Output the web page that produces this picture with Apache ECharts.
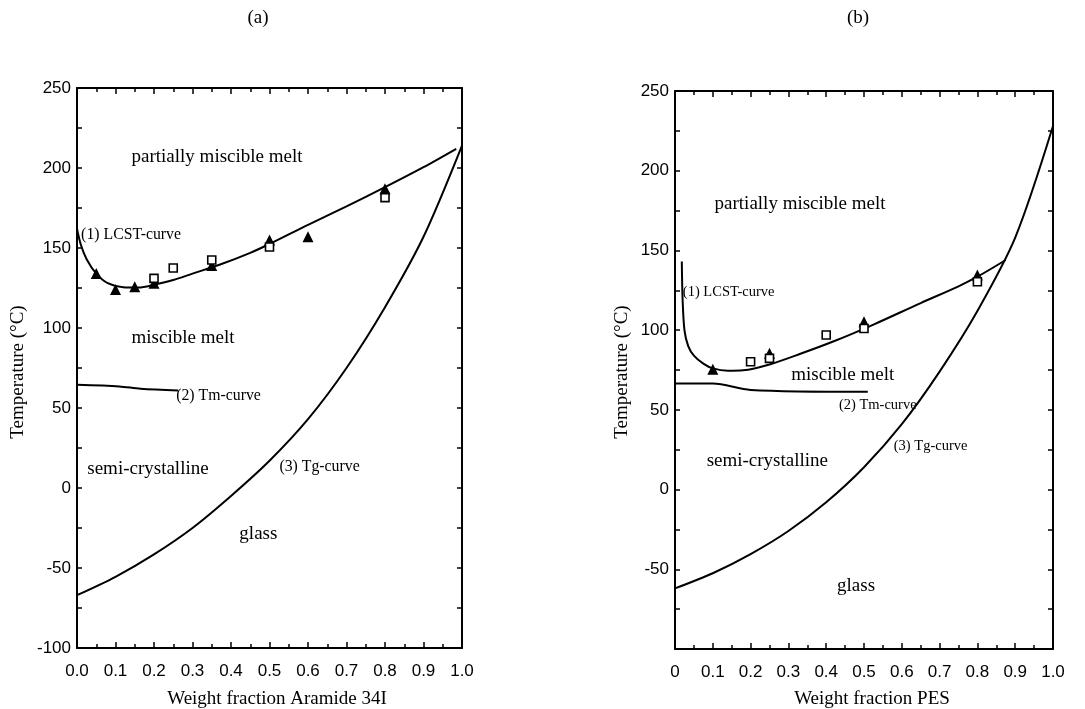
<!DOCTYPE html>
<html>
<head>
<meta charset="utf-8">
<script src="https://cdn.jsdelivr.net/npm/echarts@6/dist/echarts.min.js"></script>
<style>
html,body{margin:0;padding:0;background:#fff;}
#chart{width:1085px;height:709px;}
</style>
</head>
<body>
<div id="chart"></div>
<script>
// ---------- tick labels ----------
const xLabelsA = ['0.0','0.1','0.2','0.3','0.4','0.5','0.6','0.7','0.8','0.9','1.0'];
const xLabelsB = ['0','0.1','0.2','0.3','0.4','0.5','0.6','0.7','0.8','0.9','1.0'];
const yLabelsA = ['-100','-50','0','50','100','150','200','250'];
const yLabelsB = ['','-50','0','50','100','150','200','250'];

// ---------- panel (a): PEO / Aramide 34I ----------
const lcstA = [[0,162],[0.01,152],[0.025,143],[0.05,134],[0.08,128],[0.12,125.5],[0.16,125.3],[0.2,127],[0.25,130],[0.3,134],[0.37,139.5],[0.45,147],[0.5,152.5],[0.6,164.5],[0.7,176],[0.8,188],[0.9,200.5],[0.985,212]];
const tmA = [[0,64.5],[0.11,63.5],[0.165,62],[0.263,61]];
const tgA = [[0,-67],[0.1,-55.5],[0.2,-41.5],[0.3,-25],[0.4,-5],[0.5,17],[0.6,43],[0.7,75],[0.8,113],[0.9,157],[1.0,214]];
const triA = [[0.05,134],[0.1,124],[0.15,125.8],[0.2,128],[0.35,139],[0.5,155],[0.6,157],[0.8,187]];
const sqA = [[0.2,131],[0.25,137.5],[0.35,142.5],[0.5,150.6],[0.8,181.5]];

// ---------- panel (b): PEO / PES ----------
const lcstB = [[0.018,143],[0.02,120],[0.025,100],[0.035,90],[0.05,84],[0.075,79],[0.1,76],[0.14,74.5],[0.18,74.8],[0.25,78.5],[0.33,85],[0.42,93],[0.525,103.5],[0.65,117],[0.75,127.5],[0.8,133.5],[0.875,144]];
const tmB = [[0,66.5],[0.1,66.5],[0.2,62.5],[0.51,61.3]];
const tgB = [[0,-62],[0.1,-52.5],[0.2,-40.5],[0.3,-26],[0.4,-8],[0.5,14],[0.6,41],[0.7,74],[0.8,112],[0.9,158],[1.0,228]];
const triB = [[0.1,75.4],[0.25,85.5],[0.5,105.3],[0.8,134.6]];
const sqB = [[0.2,80.2],[0.25,82.3],[0.4,97],[0.5,101],[0.8,130.4]];

// ---------- region / curve annotations (data coordinates) ----------
const notesA = [
  [0.143,206.5,'partially miscible melt','big'],
  [0.012,158,'(1) LCST-curve','small'],
  [0.143,93.5,'miscible melt','big'],
  [0.259,57,'(2) Tm-curve','small'],
  [0.028,11.3,'semi-crystalline','big'],
  [0.527,13,'(3) Tg-curve','small'],
  [0.423,-28.8,'glass','big']
];
const notesB = [
  [0.106,179,'partially miscible melt','big'],
  [0.022,123.5,'(1) LCST-curve','small'],
  [0.309,71.8,'miscible melt','big'],
  [0.435,52.4,'(2) Tm-curve','small'],
  [0.085,17.5,'semi-crystalline','big'],
  [0.58,26.8,'(3) Tg-curve','small'],
  [0.43,-61,'glass','big']
];

const SANS = 'Liberation Sans, Arial, sans-serif';
const SERIF = 'Liberation Serif, Times New Roman, serif';

function xAxisPair(grid, labels) {
  const base = {
    type:'value', gridIndex:grid, min:0, max:1, interval:0.1,
    axisLine:{show:true, onZero:false, lineStyle:{color:'#000', width:2}},
    axisTick:{show:true, inside:true, length:6, lineStyle:{color:'#000', width:1.5}},
    minorTick:{show:true, splitNumber:2, length:4, lineStyle:{color:'#000', width:1.5}},
    splitLine:{show:false}, minorSplitLine:{show:false}
  };
  return [
    Object.assign({}, base, {position:'bottom',
      axisLabel:{show:true, color:'#000', fontFamily:SANS, fontSize:17, margin:15,
        formatter:(v)=>labels[Math.round(v*10)]}}),
    Object.assign({}, base, {position:'top', axisLabel:{show:false}})
  ];
}
function yAxisPair(grid, labels) {
  const base = {
    type:'value', gridIndex:grid, min:-100, max:250, interval:50,
    axisLine:{show:true, onZero:false, lineStyle:{color:'#000', width:2}},
    axisTick:{show:true, inside:true, length:5, lineStyle:{color:'#000', width:1.5}},
    minorTick:{show:true, splitNumber:2, length:5, lineStyle:{color:'#000', width:1.5}},
    splitLine:{show:false}, minorSplitLine:{show:false}
  };
  return [
    Object.assign({}, base, {position:'left',
      axisLabel:{show:true, color:'#000', fontFamily:SANS, fontSize:17, margin:6,
        formatter:(v)=>labels[Math.round((v+100)/50)]}}),
    Object.assign({}, base, {position:'right', axisLabel:{show:false}})
  ];
}

function curve(data, xi, yi) {
  return {type:'line', data:data, xAxisIndex:xi, yAxisIndex:yi, showSymbol:false, symbol:'none',
    smooth:0.3, lineStyle:{color:'#000', width:2, opacity:1}, z:3, silent:true};
}
function tri(data, xi, yi) {
  return {type:'scatter', data:data, xAxisIndex:xi, yAxisIndex:yi, symbol:'triangle', symbolSize:11,
    itemStyle:{color:'#000', opacity:1}, z:5, silent:true};
}
function sq(data, xi, yi) {
  return {type:'scatter', data:data, xAxisIndex:xi, yAxisIndex:yi, symbol:'rect', symbolSize:8,
    itemStyle:{color:'#fff', borderColor:'#000', borderWidth:1.6, opacity:1}, z:6, silent:true};
}
function notes(list, xi, yi, smallSize) {
  return {type:'scatter', xAxisIndex:xi, yAxisIndex:yi, symbolSize:1, silent:true, z:7,
    itemStyle:{color:'rgba(0,0,0,0)', opacity:1},
    data:list.map(n=>({value:[n[0],n[1]], name:n[2],
      label:{show:true, position:[0,0], align:'left', verticalAlign:'middle',
        formatter:n[2], color:'#000', opacity:1, fontFamily:SERIF,
        fontSize: n[3]==='big' ? 19 : smallSize}}))};
}

const xa = xAxisPair(0, xLabelsA), xb = xAxisPair(1, xLabelsB);
const ya = yAxisPair(0, yLabelsA), yb = yAxisPair(1, yLabelsB);

const chart = echarts.init(document.getElementById('chart'), null, {renderer:'canvas'});
chart.setOption({
  backgroundColor:'#fff',
  animation:false,
  grid:[
    {left:77, top:88, width:385, height:560, outerBoundsMode:'none', containLabel:false},
    {left:675, top:91, width:378, height:558, outerBoundsMode:'none', containLabel:false}
  ],
  xAxis:[xa[0], xa[1], xb[0], xb[1]],
  yAxis:[ya[0], ya[1], yb[0], yb[1]],
  series:[
    curve(tgA,0,0), curve(tmA,0,0), curve(lcstA,0,0), tri(triA,0,0), sq(sqA,0,0), notes(notesA,0,0,15.8),
    curve(tgB,2,2), curve(tmB,2,2), curve(lcstB,2,2), tri(triB,2,2), sq(sqB,2,2), notes(notesB,2,2,14.5)
  ],
  graphic:[
    {type:'text', x:258, y:18, style:{text:'(a)', font:'19px '+SERIF, fill:'#000', align:'center', verticalAlign:'middle'}},
    {type:'text', x:858, y:18, style:{text:'(b)', font:'19px '+SERIF, fill:'#000', align:'center', verticalAlign:'middle'}},
    {type:'text', x:18, y:372, rotation:Math.PI/2, style:{text:'Temperature (°C)', font:'19px '+SERIF, fill:'#000', align:'center', verticalAlign:'middle'}},
    {type:'text', x:622, y:372, rotation:Math.PI/2, style:{text:'Temperature (°C)', font:'19px '+SERIF, fill:'#000', align:'center', verticalAlign:'middle'}},
    {type:'text', x:277, y:699, style:{text:'Weight fraction Aramide 34I', font:'19px '+SERIF, fill:'#000', align:'center', verticalAlign:'middle'}},
    {type:'text', x:872, y:699, style:{text:'Weight fraction PES', font:'19px '+SERIF, fill:'#000', align:'center', verticalAlign:'middle'}}
  ]
});
</script>
</body>
</html>
